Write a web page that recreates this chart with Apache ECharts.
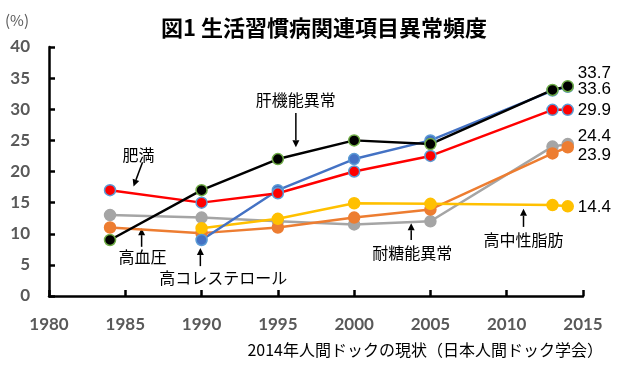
<!DOCTYPE html>
<html><head><meta charset="utf-8">
<script src="https://cdn.jsdelivr.net/npm/echarts@6/dist/echarts.min.js"></script>
<style>html,body{margin:0;padding:0;background:#fff}#c{width:625px;height:374px}</style>
</head><body><div id="c"></div>
<script>
// ---- data ----
var years = [1984, 1990, 1995, 2000, 2005, 2013, 2014];
var liver = [9, 17, 22, 25, 24.4, 33.1, 33.7];          // 肝機能異常
var cholesterol = [null, 9, 17, 22, 25, 33.0, 33.6];    // 高コレステロール
var obesity = [17, 15, 16.5, 20, 22.5, 29.9, 29.9];     // 肥満
var glucose = [13, 12.6, 12, 11.5, 12, 24.0, 24.4];     // 耐糖能異常
var hypertension = [11, 10.1, 11, 12.6, 13.9, 22.9, 23.9]; // 高血圧
var triglyceride = [null, 10.9, 12.4, 14.9, 14.8, 14.6, 14.4]; // 高中性脂肪
var xTicks = [1980, 1985, 1990, 1995, 2000, 2005, 2010, 2015];
var yTicks = [0, 5, 10, 15, 20, 25, 30, 35, 40];

function pairs(arr){ var out=[]; for(var i=0;i<years.length;i++){ if(arr[i]!==null) out.push([years[i],arr[i]]);} return out; }

var chart = echarts.init(document.getElementById('c'));
var CJK = '"Noto Sans CJK JP", sans-serif';
function ser(name, arr, color, border, lblOff){
  return {
    name:name, type:'line', data:pairs(arr), symbol:'circle', symbolSize:11,
    lineStyle:{color:color, width:2.5},
    itemStyle:{color:color, borderColor:border, borderWidth:1.5},
    emphasis:{disabled:true}, animation:false,
    endLabel:{show:true, formatter:function(p){return p.value[1].toFixed(1);}, color:'#000',
      fontFamily:'"Liberation Sans", Arial, sans-serif', fontSize:17, offset:lblOff, distance:10}
  };
}
chart.setOption({
  animation:false,
  title:{text:'図1 生活習慣病関連項目異常頻度', left:319, textAlign:'center', top:12,
    textStyle:{fontFamily:CJK, fontWeight:'bold', fontSize:22, color:'#000'}},
  grid:{left:49, right:42, top:47, bottom:78, containLabel:false},
  xAxis:{type:'value', min:1980, max:2015, interval:5,
    axisLine:{lineStyle:{color:'#000', width:2.5}},
    axisTick:{inside:true, length:6, lineStyle:{color:'#000', width:2.5}},
    axisLabel:{color:'#595959', fontFamily:'Lato, sans-serif', fontWeight:'bold', fontSize:17, margin:20,
      formatter:function(v){return xTicks.indexOf(v)>=0?String(v):'';}},
    splitLine:{show:false}},
  yAxis:{type:'value', min:0, max:40, interval:5,
    axisLine:{show:true, lineStyle:{color:'#000', width:2.5}},
    axisTick:{show:true, inside:true, length:6, lineStyle:{color:'#000', width:2.5}},
    axisLabel:{color:'#595959', fontFamily:'Lato, sans-serif', fontWeight:'bold', fontSize:17, margin:19,
      formatter:function(v){return yTicks.indexOf(v)>=0?String(v):'';}},
    splitLine:{show:false}},
  series:[
    ser('耐糖能異常', glucose, '#A5A5A5', '#A5A5A5', [0,-8]),
    ser('高血圧', hypertension, '#ED7D31', '#ED7D31', [0,8]),
    ser('高中性脂肪', triglyceride, '#FFC000', '#FFC000', [0,1]),
    ser('高コレステロール', cholesterol, '#4472C4', '#5B9BD5', [0,2]),
    ser('肥満', obesity, '#FF0000', '#5B9BD5', [0,0]),
    ser('肝機能異常', liver, '#000000', '#70AD47', [0,-13])
  ]
});

// ---- annotations (data coordinates) ----
var notes = [
  {text:'肥満', at:[1985.87,22.65], from:[1986.13,21.5], to:[1985.54,17.6]},
  {text:'肝機能異常', at:[1996.18,31.5], from:[1996.18,29.4], to:[1996.18,23.9]},
  {text:'高血圧', at:[1986.13,6.3], from:[1986.07,7.9], to:[1986.07,10.9]},
  {text:'高コレステロール', at:[1991.42,2.9], from:[1989.92,4.8], to:[1989.92,7.7]},
  {text:'耐糖能異常', at:[2003.81,6.9], from:[2003.74,9.0], to:[2003.74,11.7]},
  {text:'高中性脂肪', at:[2011.1,9.0], from:[2011.1,11.1], to:[2011.1,14.0]}
];
var g = [];
notes.forEach(function(n){
  var p = chart.convertToPixel({gridIndex:0}, n.at);
  var a = chart.convertToPixel({gridIndex:0}, n.from);
  var b = chart.convertToPixel({gridIndex:0}, n.to);
  g.push({type:'text', x:p[0], y:p[1], style:{text:n.text, fill:'#000', font:'16px "Noto Sans CJK JP", sans-serif', align:'center', verticalAlign:'middle'}});
  var dx=b[0]-a[0], dy=b[1]-a[1], L=Math.sqrt(dx*dx+dy*dy), ux=dx/L, uy=dy/L, h=7, w=3.5;
  var bx=b[0]-ux*h, by=b[1]-uy*h;
  g.push({type:'line', shape:{x1:a[0],y1:a[1],x2:bx,y2:by}, style:{stroke:'#000', lineWidth:1.5}});
  g.push({type:'polygon', shape:{points:[[b[0],b[1]],[bx-uy*w,by+ux*w],[bx+uy*w,by-ux*w]]}, style:{fill:'#000'}});
});
g.push({type:'text', left:5, top:13, style:{text:'(%)', fill:'#595959', font:'15px "Noto Sans CJK JP", sans-serif'}});
g.push({type:'text', right:22, top:342, style:{text:'2014年人間ドックの現状（日本人間ドック学会）', fill:'#000', font:'16px "Noto Sans CJK JP", sans-serif'}});
chart.setOption({graphic:g});
</script></body></html>
